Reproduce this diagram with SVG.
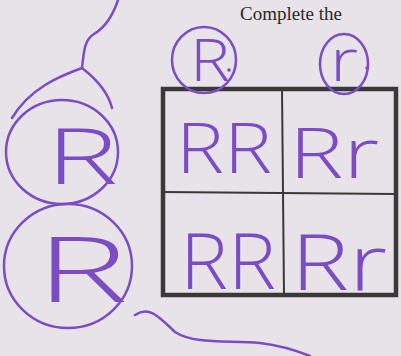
<svg xmlns="http://www.w3.org/2000/svg" width="401" height="356" viewBox="0 0 401 356">
<defs>
<style>
.ink{fill:none;stroke:#7b4cc4;stroke-width:2.5;stroke-linecap:round;stroke-linejoin:round}
.hand{fill:#7b4cc4;font-family:"Open Sans","DejaVu Sans",sans-serif;font-weight:300}
.grid{fill:none;stroke:#3b3838}
.print{fill:#2a2a2a;font-family:"Liberation Serif",serif;font-size:19px}
</style>
</defs>
<rect width="401" height="356" fill="#e7e3e8"/>
<text class="print" x="240" y="20">Complete the</text>
<g id="connectors">
<path class="ink" d="M118,0 C112,18 104,28 94,34 C84,40 84,52 82,68 C60,76 30,88 12,118"/>
<path class="ink" d="M82,68 C95,78 108,92 112,108"/>
<path class="ink" d="M135,315 C150,305 160,318 175,332 C195,345 230,340 260,343 C285,346 300,352 310,356"/>
</g>
<g id="square">
<rect class="grid" x="163" y="89" width="233" height="206" stroke-width="4.5"/>
<line class="grid" x1="282" y1="89" x2="284" y2="295" stroke-width="2"/>
<line class="grid" x1="163" y1="192" x2="396" y2="194" stroke-width="2"/>
</g>
<g id="cell-tl"><text class="hand" x="176" y="173" font-size="70" textLength="96" lengthAdjust="spacingAndGlyphs">RR</text></g>
<g id="cell-tr"><text class="hand" x="289" y="178" font-size="70" textLength="90" lengthAdjust="spacingAndGlyphs">Rr</text></g>
<g id="cell-bl"><text class="hand" x="180" y="289" font-size="78" textLength="96" lengthAdjust="spacingAndGlyphs">RR</text></g>
<g id="cell-br"><text class="hand" x="291" y="290" font-size="78" textLength="96" lengthAdjust="spacingAndGlyphs">Rr</text></g>
<g id="gamete-top-R">
<ellipse class="ink" cx="204" cy="60" rx="32" ry="33"/>
<text class="hand" x="190" y="81" font-size="58" textLength="40" lengthAdjust="spacingAndGlyphs">R</text>
<circle cx="229" cy="70" r="1.8" fill="#7b4cc4"/>
</g>
<g id="gamete-top-r">
<ellipse class="ink" cx="344" cy="64" rx="24" ry="30"/>
<text class="hand" x="330" y="81" font-size="58" textLength="28" lengthAdjust="spacingAndGlyphs">r</text>
<circle cx="367" cy="68" r="1.8" fill="#7b4cc4"/>
</g>
<g id="gamete-left-R">
<ellipse class="ink" cx="62" cy="152" rx="56" ry="52"/>
<text class="hand" x="46" y="184" font-size="78" textLength="72" lengthAdjust="spacingAndGlyphs">R</text>
</g>
<g id="gamete-left-R2">
<ellipse class="ink" cx="68" cy="266" rx="64" ry="62"/>
<text class="hand" x="36" y="302" font-size="90" textLength="92" lengthAdjust="spacingAndGlyphs">R</text>
</g>
</svg>
